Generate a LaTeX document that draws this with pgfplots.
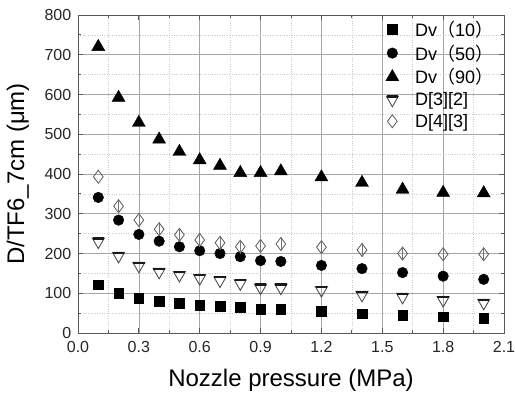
\documentclass[border=0pt]{standalone}
\usepackage{pgfplots}
\pgfplotsset{compat=1.18}
\usepackage{fontspec}
\setmainfont{Liberation Sans}
\newfontfamily\cjk{Noto Sans CJK SC}
\pgfdeclareplotmark{dtri}{%
  \begin{pgfscope}%
  \pgfpathmoveto{\pgfqpoint{-0.866\pgfplotmarksize}{0.5\pgfplotmarksize}}%
  \pgfpathlineto{\pgfqpoint{0.866\pgfplotmarksize}{0.5\pgfplotmarksize}}%
  \pgfpathlineto{\pgfqpoint{0pt}{-\pgfplotmarksize}}%
  \pgfpathclose
  \pgfusepath{stroke}%
  \end{pgfscope}%
  \begin{pgfscope}%
  \pgfsetlinewidth{2.2pt}%
  \pgfsetstrokecolor{black!90}%
  \pgfpathmoveto{\pgfqpoint{-0.82\pgfplotmarksize}{0.45\pgfplotmarksize}}%
  \pgfpathlineto{\pgfqpoint{0.82\pgfplotmarksize}{0.45\pgfplotmarksize}}%
  \pgfusepath{stroke}%
  \end{pgfscope}}
\begin{document}
\begin{tikzpicture}
\useasboundingbox (-78pt,-61pt) rectangle (437pt,333pt);
\begin{axis}[
  at={(0,0)}, anchor=south west,
  scale only axis, width=426pt, height=318pt,
  xmin=0, xmax=2.1, ymin=0, ymax=800,
  xtick={0,0.3,...,2.1}, ytick={0,100,...,800},
  minor x tick num=1, minor y tick num=1,
  xticklabels={0.0,0.3,0.6,0.9,1.2,1.5,1.8,2.1},
  /pgf/number format/assume math mode=true,
  tick align=inside,
  major tick length=5pt, minor tick length=3pt,
  axis line style={black!65, line width=0.9pt},
  every tick/.style={black!65, line width=0.8pt},
  grid=both,
  major grid style={black!35, line width=0.6pt},
  minor grid style={black!20, dotted, line width=0.5pt},
  ticklabel style={font=\fontsize{16}{18}\selectfont, text=black!85, inner sep=1pt},
  xticklabel style={yshift=-7.5pt},
  yticklabel style={xshift=-5.5pt},
  xlabel={Nozzle pressure (MPa)},
  ylabel={D/TF6\_7cm (μm)},
  xlabel style={at={(axis description cs:0.5,-0.148)}, anchor=center, font=\fontsize{24}{28}\selectfont},
  ylabel style={at={(axis description cs:-0.141,0.5)}, anchor=center, font=\fontsize{24}{28}\selectfont},
  legend style={at={(axis description cs:0.719,0.992)}, anchor=north west, draw=none, fill=none,
    font=\fontsize{18}{20}\selectfont, row sep=3pt, inner sep=1pt,
    /tikz/every odd column/.append style={column sep=14pt}},
  legend cell align=left,
]
\addplot[only marks, mark=square*, mark size=4.8pt, black] coordinates {
(0.1,122)(0.2,100)(0.3,87)(0.4,80)(0.5,75)(0.6,70)(0.7,68)(0.8,65)(0.9,60)(1.0,60)(1.2,55)(1.4,49)(1.6,45)(1.8,41)(2.0,37)};
\addlegendentry{Dv{\cjk （}10{\cjk ）}}
\addplot[only marks, mark=*, mark size=5.3pt, black] coordinates {
(0.1,341)(0.2,284)(0.3,248)(0.4,231)(0.5,217)(0.6,207)(0.7,200)(0.8,192)(0.9,182)(1.0,180)(1.2,170)(1.4,162)(1.6,152)(1.8,143)(2.0,135)};
\addlegendentry{Dv{\cjk （}50{\cjk ）}}
\addplot[only marks, mark=triangle*, mark size=7.5pt, black] coordinates {
(0.1,720)(0.2,592)(0.3,529)(0.4,487)(0.5,456)(0.6,435)(0.7,421)(0.8,403)(0.9,403)(1.0,407)(1.2,392)(1.4,378)(1.6,361)(1.8,353)(2.0,352)};
\addlegendentry{Dv{\cjk （}90{\cjk ）}}
\addplot[only marks, mark=dtri, mark size=7pt, draw=black!70, mark options={line width=0.9pt, draw=black!70}] coordinates {
(0.1,230)(0.2,194)(0.3,169)(0.4,154)(0.5,146)(0.6,138)(0.7,132)(0.8,125)(0.9,114)(1.0,114)(1.2,108)(1.4,96)(1.6,91)(1.8,83)(2.0,76)};
\addlegendentry{D[3][2]}
\addplot[only marks, mark=diamond, mark size=6.5pt, black!65, mark options={line width=0.8pt}] coordinates {
(0.1,393)(0.2,319)(0.3,284)(0.4,261)(0.5,247)(0.6,234)(0.7,227)(0.8,217)(0.9,219)(1.0,224)(1.2,216)(1.4,209)(1.6,200)(1.8,198)(2.0,198)};
\addlegendentry{D[4][3]}
\addplot[forget plot, only marks, mark=|, mark size=7pt, black!55, mark options={line width=0.6pt}] coordinates {
(0.2,319)(0.3,284)(0.4,261)(0.5,247)(0.6,234)(0.7,227)(0.8,217)(0.9,219)(1.0,224)(1.2,216)(1.4,209)(1.6,200)(1.8,198)(2.0,198)};
\end{axis}
\end{tikzpicture}
\end{document}
